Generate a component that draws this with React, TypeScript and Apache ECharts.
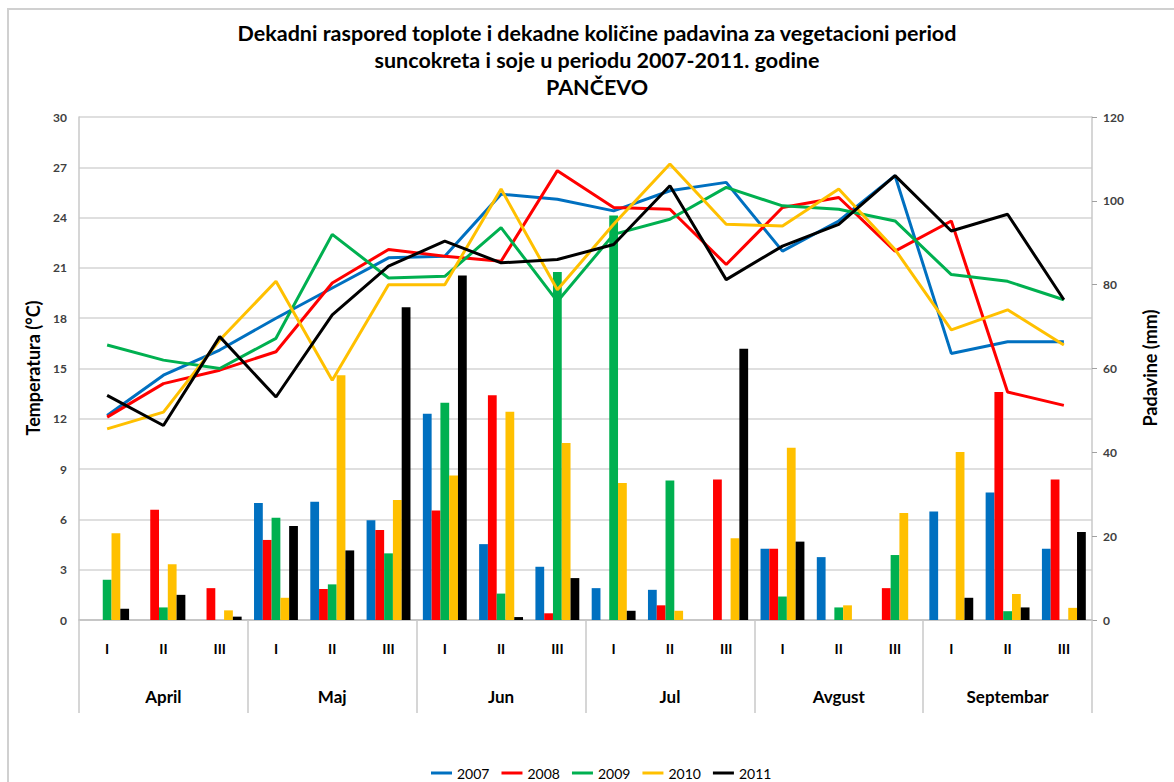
import React, { useEffect, useRef } from "react";
import * as echarts from "echarts";

const decades = ["I", "II", "III", "I", "II", "III", "I", "II", "III", "I", "II", "III", "I", "II", "III", "I", "II", "III"];
const months = ["April", "Maj", "Jun", "Jul", "Avgust", "Septembar"];
const years = ["2007", "2008", "2009", "2010", "2011"];
const colors = ["#0070C0", "#FF0000", "#00B050", "#FFC000", "#000000"];

// Temperature (°C), left axis
const temp2007 = [12.2, 14.6, 16.1, 18.0, 19.8, 21.6, 21.7, 25.4, 25.1, 24.4, 25.6, 26.1, 22.0, 23.8, 26.5, 15.9, 16.6, 16.6];
const temp2008 = [12.1, 14.1, 14.9, 16.0, 20.1, 22.1, 21.7, 21.4, 26.8, 24.6, 24.5, 21.2, 24.6, 25.2, 22.0, 23.8, 13.6, 12.8];
const temp2009 = [16.4, 15.5, 15.0, 16.8, 23.0, 20.4, 20.5, 23.4, 19.0, 23.0, 23.9, 25.8, 24.7, 24.5, 23.8, 20.6, 20.2, 19.1];
const temp2010 = [11.4, 12.4, 16.7, 20.2, 14.3, 20.0, 20.0, 25.7, 19.7, 23.6, 27.2, 23.6, 23.5, 25.7, 22.1, 17.3, 18.5, 16.4];
const temp2011 = [13.4, 11.6, 16.9, 13.3, 18.2, 21.1, 22.6, 21.3, 21.5, 22.4, 25.9, 20.3, 22.3, 23.6, 26.5, 23.2, 24.2, 19.1];

// Precipitation (mm), right axis
const rain2007 = [0, 0, 0, 27.9, 28.2, 23.8, 49.2, 18.1, 12.7, 7.6, 7.2, 0, 17.0, 15.0, 0, 25.9, 30.4, 17.0];
const rain2008 = [0, 26.3, 7.6, 19.1, 7.4, 21.5, 26.1, 53.6, 1.6, 0, 3.5, 33.5, 17.0, 0, 7.6, 0, 54.4, 33.5];
const rain2009 = [9.6, 3.0, 0, 24.4, 8.5, 15.9, 51.8, 6.3, 83.0, 96.5, 33.3, 0, 5.6, 3.0, 15.5, 0, 2.1, 0];
const rain2010 = [20.7, 13.3, 2.3, 5.3, 58.4, 28.6, 34.5, 49.7, 42.2, 32.7, 2.2, 19.5, 41.1, 3.5, 25.5, 40.1, 6.2, 2.9];
const rain2011 = [2.7, 6.0, 0.8, 22.4, 16.6, 74.6, 82.2, 0.7, 10.0, 2.2, 0, 64.7, 18.7, 0, 0, 5.3, 3.0, 21.0];

const tempSeries = [temp2007, temp2008, temp2009, temp2010, temp2011];
const rainSeries = [rain2007, rain2008, rain2009, rain2010, rain2011];

const tempTicks = { min: 0, max: 30, interval: 3 };
const rainTicks = { min: 0, max: 120, interval: 20 };

const titleLines = [
  "Dekadni raspored toplote i dekadne količine padavina za vegetacioni period",
  "suncokreta i soje u periodu 2007-2011. godine",
  "PANČEVO",
];

const FONT = "Lato, 'Open Sans', sans-serif";

export default function App() {
  const ref = useRef<HTMLDivElement>(null);

  useEffect(() => {
    if (!ref.current) return;
    const chart = echarts.init(ref.current, undefined, { renderer: "svg" });

    const barSeries = years.map((y, i) => ({
      name: y,
      type: "bar",
      xAxisIndex: 0,
      yAxisIndex: 1,
      data: rainSeries[i],
      barGap: "0%",
      barCategoryGap: "22%",
      itemStyle: { color: colors[i] },
      z: 2,
    }));

    const lineSeries = years.map((y, i) => ({
      name: y,
      type: "line",
      xAxisIndex: 0,
      yAxisIndex: 0,
      data: tempSeries[i],
      symbol: "none",
      lineStyle: { color: colors[i], width: 3 },
      itemStyle: { color: colors[i] },
      z: 5,
    }));

    const titleGraphics = titleLines.map((t, i) => ({
      type: "text",
      x: 597,
      y: 33 + i * 27,
      style: {
        text: t,
        fontFamily: FONT,
        fontWeight: "bold",
        fontSize: 21.5,
        fill: "#000",
        align: "center",
        verticalAlign: "middle",
      },
    }));

    chart.setOption({
      animation: false,
      backgroundColor: "#ffffff",
      textStyle: { fontFamily: FONT },
      grid: { left: 79, right: 82, top: 117, bottom: 162, containLabel: false },
      graphic: [
        {
          type: "rect",
          shape: { x: 8, y: 9, width: 1180, height: 800 },
          style: { fill: "none", stroke: "#d0d0d0", lineWidth: 2 },
          silent: true,
        },
        ...titleGraphics,
        {
          type: "text",
          x: 33,
          y: 368,
          rotation: Math.PI / 2,
          style: {
            text: "Temperatura (°C)",
            fontFamily: FONT,
            fontWeight: "bold",
            fontSize: 18,
            fill: "#000",
            align: "center",
            verticalAlign: "middle",
          },
        },
        {
          type: "text",
          x: 1150,
          y: 368,
          rotation: Math.PI / 2,
          style: {
            text: "Padavine (mm)",
            fontFamily: FONT,
            fontWeight: "bold",
            fontSize: 18,
            fill: "#000",
            align: "center",
            verticalAlign: "middle",
          },
        },
      ],
      legend: {
        data: years,
        left: 426,
        top: 761,
        icon: "rect",
        itemWidth: 21,
        itemHeight: 3,
        itemGap: 12,
        textStyle: { fontFamily: "'Liberation Sans Narrow', " + FONT, fontSize: 14, color: "#000" },
      },
      xAxis: [
        {
          type: "category",
          data: decades,
          position: "bottom",
          axisLine: { show: true, lineStyle: { color: "#bfbfbf", width: 1.5 } },
          axisTick: { show: false },
          axisLabel: { interval: 0, margin: 21, fontSize: 14, fontWeight: "bold", color: "#000", fontFamily: FONT },
          splitLine: { show: false },
        },
        {
          type: "category",
          data: months,
          position: "bottom",
          axisLine: { show: false },
          axisTick: { show: true, interval: 0, length: 93, lineStyle: { color: "#c8c8c8", width: 1.5 } },
          axisLabel: { interval: 0, margin: 68, fontSize: 17, fontWeight: "bold", color: "#000", fontFamily: FONT },
          splitLine: { show: false },
        },
      ],
      yAxis: [
        {
          type: "value",
          position: "left",
          ...tempTicks,
          axisLine: { show: true, lineStyle: { color: "#c8c8c8", width: 1.5 } },
          axisTick: { show: false },
          axisLabel: { margin: 12, fontSize: 12, fontWeight: "bold", color: "#404040", fontFamily: FONT },
          splitLine: { show: true, lineStyle: { color: "#d4d4d4", width: 1.5 } },
        },
        {
          type: "value",
          position: "right",
          ...rainTicks,
          axisLine: { show: true, lineStyle: { color: "#c8c8c8", width: 1.5 } },
          axisTick: { show: true, inside: false, length: 5, lineStyle: { color: "#a0a0a0" } },
          axisLabel: { margin: 11, fontSize: 12, fontWeight: "bold", color: "#404040", fontFamily: FONT },
          splitLine: { show: false },
        },
      ],
      series: [...barSeries, ...lineSeries],
    });

    return () => chart.dispose();
  }, []);

  return (
    <div
      ref={ref}
      style={{ position: "fixed", left: 0, top: 0, width: 1174, height: 782 }}
    />
  );
}
